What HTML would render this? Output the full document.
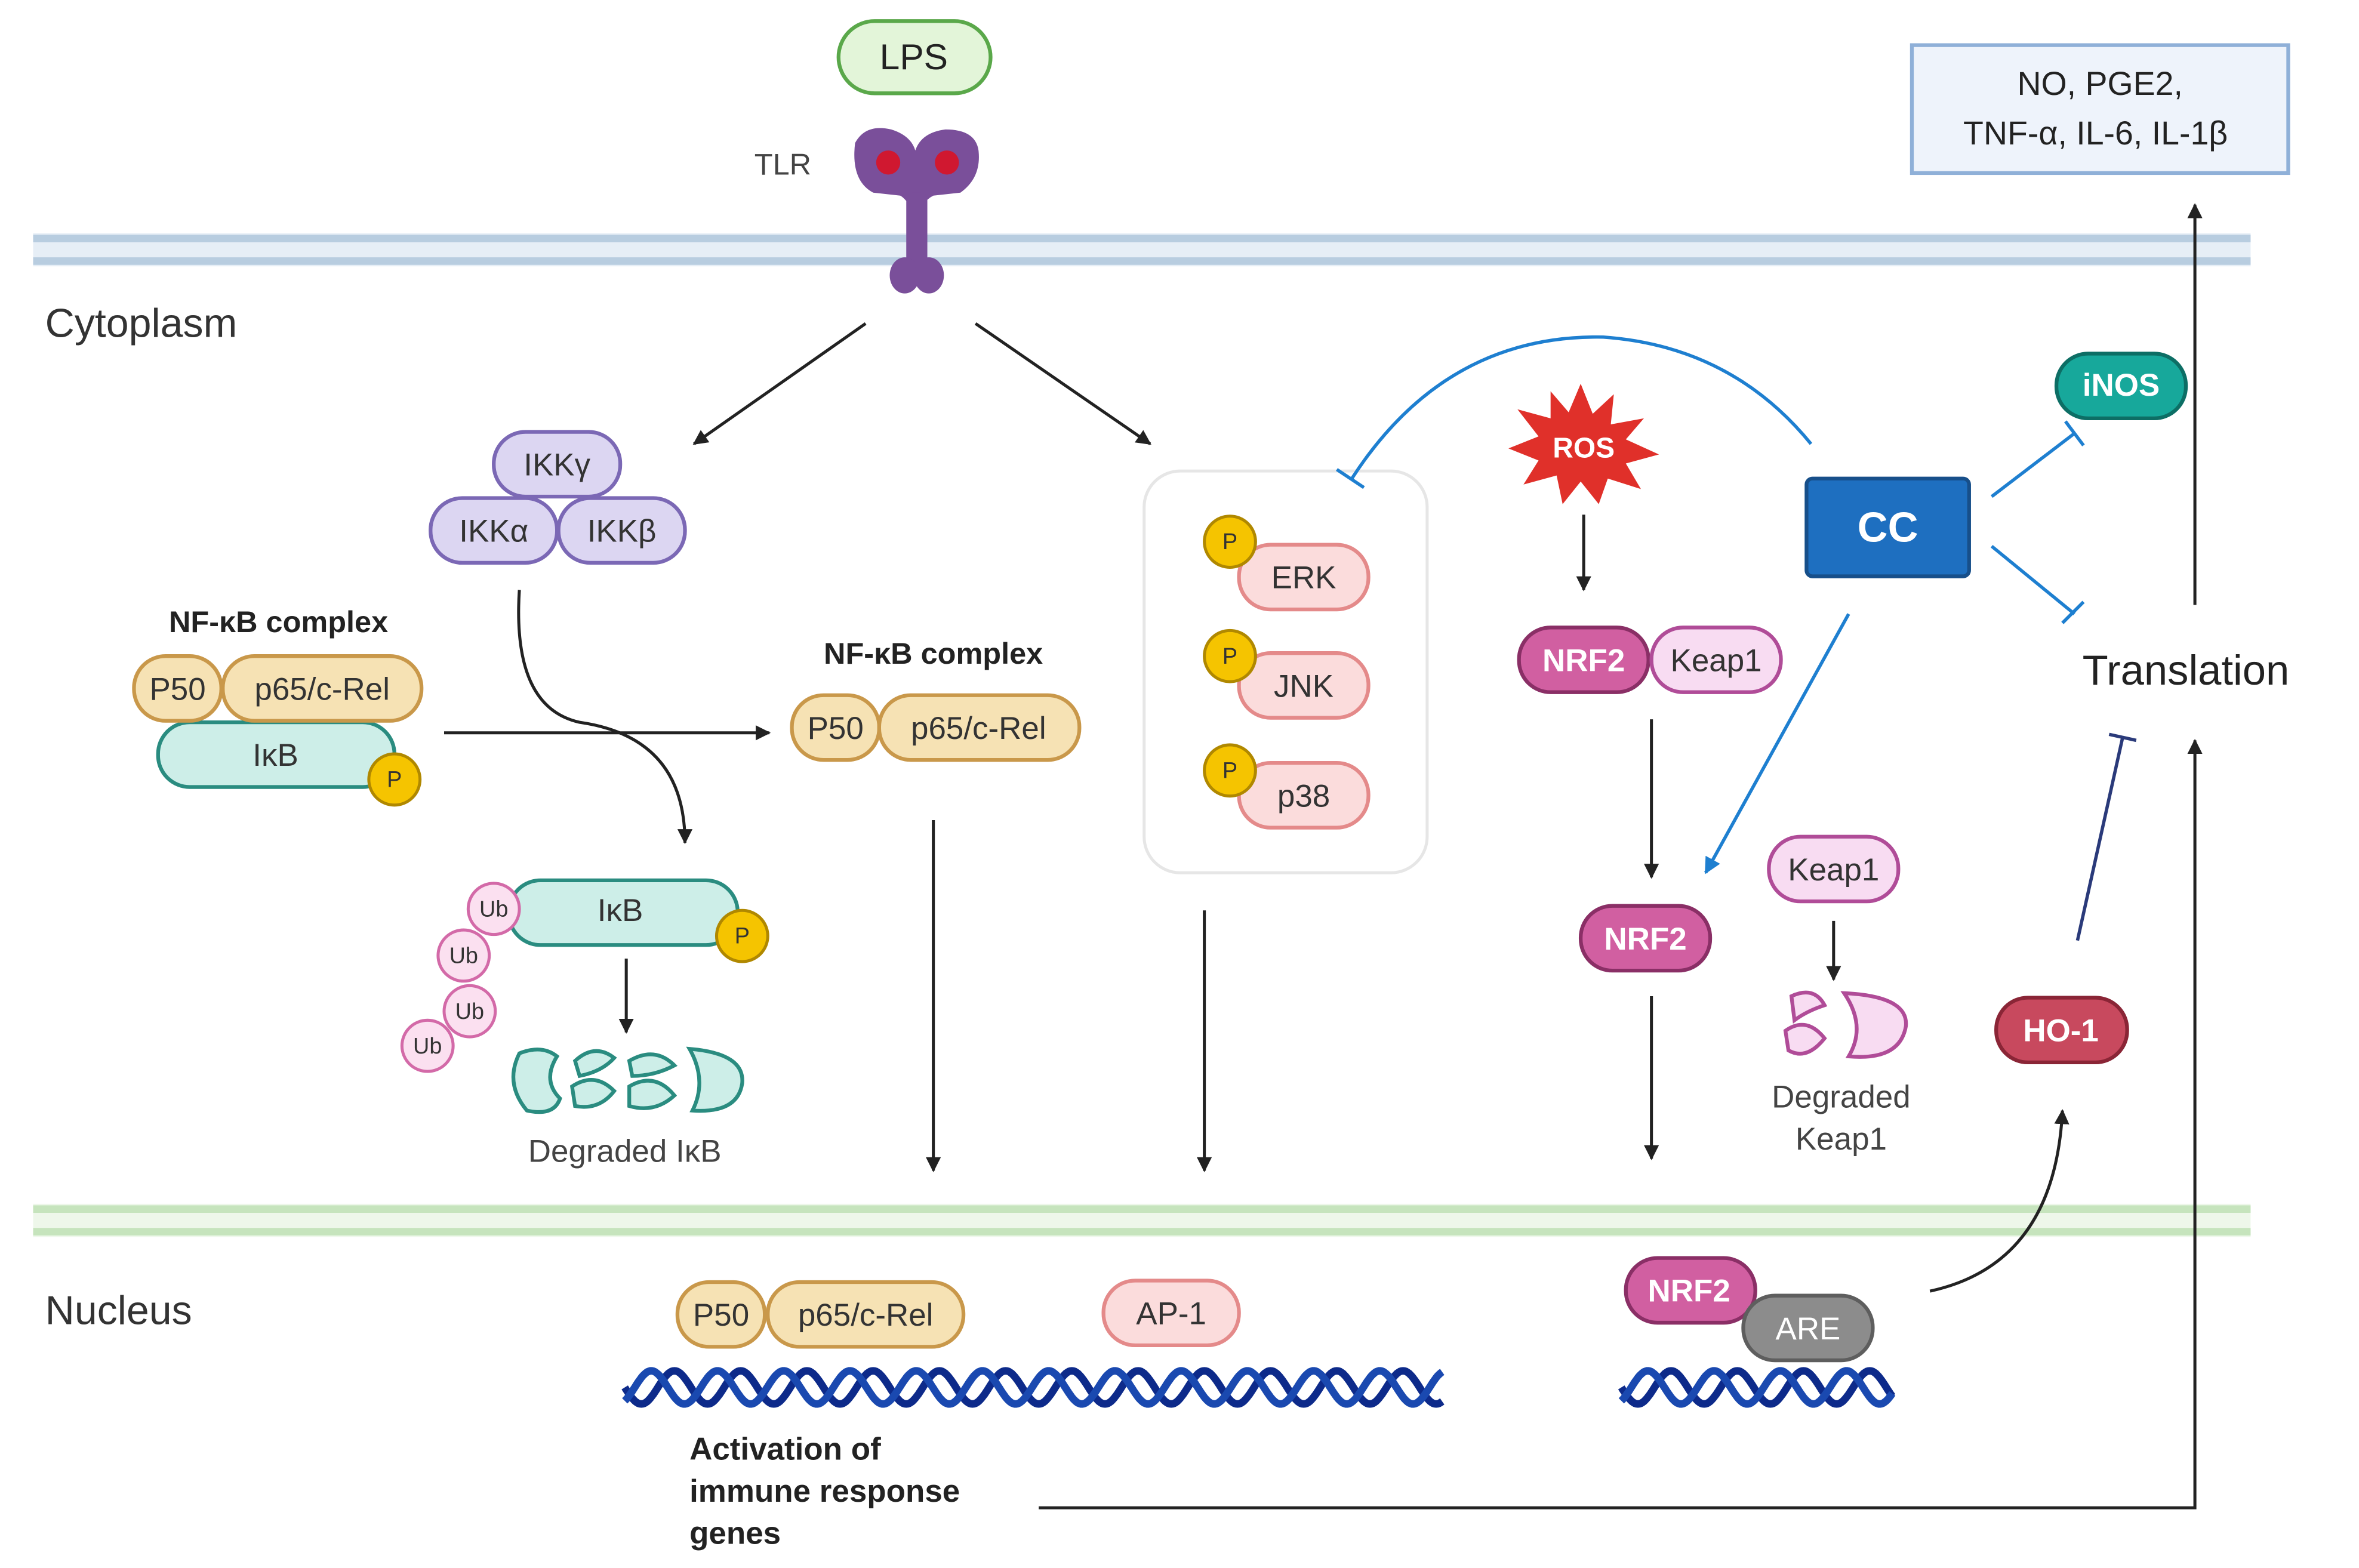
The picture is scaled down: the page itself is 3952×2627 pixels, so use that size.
<!DOCTYPE html>
<html><head><meta charset="utf-8"><style>
html,body{margin:0;padding:0;background:#fff;overflow:hidden}
svg{display:block}
text{font-family:"Liberation Sans",sans-serif}
</style></head><body>
<svg id="s" width="3952" height="2627" viewBox="0 0 1567 1042" preserveAspectRatio="none" xmlns="http://www.w3.org/2000/svg">
<defs>
<marker id="a" viewBox="0 0 10 10" refX="9" refY="5" markerWidth="5" markerHeight="5" orient="auto"><path d="M0,0L10,5L0,10z" fill="#222"/></marker>
<marker id="ab" viewBox="0 0 10 10" refX="9" refY="5" markerWidth="5" markerHeight="5" orient="auto"><path d="M0,0L10,5L0,10z" fill="#1e7fd0"/></marker>
</defs>
<rect width="1567" height="1042" fill="#fff"/>
<rect x="22" y="155" width="1473" height="22" fill="#e6eef6"/>
<rect x="22" y="156" width="1473" height="5" fill="#b8cde0"/>
<rect x="22" y="171" width="1473" height="5" fill="#b8cde0"/>
<rect x="22" y="800" width="1473" height="22" fill="#eef7ea"/>
<rect x="22" y="801" width="1473" height="5" fill="#c6e4bd"/>
<rect x="22" y="816" width="1473" height="5" fill="#c6e4bd"/>
<text x="30" y="224" font-size="27" fill="#333">Cytoplasm</text>
<text x="30" y="880" font-size="27" fill="#333">Nucleus</text>
<rect x="557" y="14" width="101" height="48" rx="24" fill="#e3f5d9" stroke="#5aa84a" stroke-width="2.5"/>
<text x="607" y="46" font-size="24" text-anchor="middle" fill="#222">LPS</text>
<text x="520" y="116" font-size="20" text-anchor="middle" fill="#444">TLR</text>
<g fill="#7a4f9a">
<path d="M568,95 Q575,82 592,86 Q605,90 608,100 Q612,88 628,86 Q648,86 650,100 Q652,118 638,128 L620,130 Q612,134 610,145 Q602,132 598,130 L580,128 Q565,120 568,95z"/>
<rect x="602" y="128" width="14" height="48" rx="4"/>
<ellipse cx="601" cy="183" rx="10" ry="12"/><ellipse cx="617" cy="183" rx="10" ry="12"/>
</g>
<circle cx="590" cy="108" r="8" fill="#d01830"/><circle cx="629" cy="108" r="8" fill="#d01830"/>
<g stroke="#222" stroke-width="2" fill="none" marker-end="url(#a)">
<line x1="575" y1="215" x2="461" y2="295"/>
<line x1="648" y1="215" x2="764" y2="295"/>
<line x1="295" y1="487" x2="511" y2="487"/>
<path d="M345,392 Q340,470 385,480 Q455,490 455,560"/>
<line x1="416" y1="637" x2="416" y2="686"/>
<line x1="620" y1="545" x2="620" y2="778"/>
<line x1="800" y1="605" x2="800" y2="778"/>
<line x1="1052" y1="342" x2="1052" y2="392"/>
<line x1="1097" y1="478" x2="1097" y2="583"/>
<line x1="1218" y1="612" x2="1218" y2="651"/>
<line x1="1097" y1="662" x2="1097" y2="770"/>
<line x1="1458" y1="402" x2="1458" y2="136"/>
<path d="M690,1002 L1458,1002 L1458,492"/>
<path d="M1282,858 Q1365,840 1370,738"/>
</g>
<g stroke="#7b68b5" stroke-width="2.5" fill="#dcd6f2">
<rect x="328" y="287" width="84" height="43" rx="21"/>
<rect x="286" y="331" width="84" height="43" rx="21"/>
<rect x="371" y="331" width="84" height="43" rx="21"/>
</g>
<g font-size="21" text-anchor="middle" fill="#333">
<text x="370" y="316">IKKγ</text><text x="328" y="360">IKKα</text><text x="413" y="360">IKKβ</text>
</g>
<text x="185" y="420" font-size="20" font-weight="bold" text-anchor="middle" fill="#222">NF-κB complex</text>
<rect x="105" y="480" width="157" height="43" rx="21" fill="#cdeee8" stroke="#2a8c80" stroke-width="2.5"/>
<text x="183" y="509" font-size="21" text-anchor="middle" fill="#333">IκB</text>
<g stroke="#c9984a" stroke-width="2.5" fill="#f6e2b4">
<rect x="89" y="436" width="58" height="43" rx="21"/><rect x="148" y="436" width="132" height="43" rx="21"/>
<rect x="526" y="462" width="58" height="43" rx="21"/><rect x="584" y="462" width="133" height="43" rx="21"/>
<rect x="450" y="852" width="58" height="43" rx="21"/><rect x="510" y="852" width="130" height="43" rx="21"/>
</g>
<g font-size="21" text-anchor="middle" fill="#333">
<text x="118" y="465">P50</text><text x="214" y="465">p65/c-Rel</text>
<text x="555" y="491">P50</text><text x="650" y="491">p65/c-Rel</text>
<text x="479" y="881">P50</text><text x="575" y="881">p65/c-Rel</text>
</g>
<text x="620" y="441" font-size="20" font-weight="bold" text-anchor="middle" fill="#222">NF-κB complex</text>
<rect x="338" y="585" width="152" height="43" rx="21" fill="#cdeee8" stroke="#2a8c80" stroke-width="2.5"/>
<text x="412" y="612" font-size="21" text-anchor="middle" fill="#333">IκB</text>
<g fill="#fbe0f0" stroke="#d36aa8" stroke-width="2">
<circle cx="328" cy="604" r="17"/><circle cx="308" cy="635" r="17"/><circle cx="312" cy="672" r="17"/><circle cx="284" cy="695" r="17"/>
</g>
<g font-size="15" text-anchor="middle" fill="#333">
<text x="328" y="609">Ub</text><text x="308" y="640">Ub</text><text x="312" y="677">Ub</text><text x="284" y="700">Ub</text>
</g>
<g fill="#cdeee8" stroke="#2a8c80" stroke-width="2.5">
<path d="M345,700 Q335,720 350,738 Q368,742 372,730 Q360,718 370,702 Q360,694 345,700z"/>
<path d="M382,705 Q395,693 408,703 Q400,712 385,715z M380,722 Q395,712 408,725 Q398,738 382,735z"/>
<path d="M418,705 Q435,695 448,708 Q435,715 420,715z M418,722 Q435,712 448,728 Q435,740 418,735z"/>
<path d="M458,697 Q495,700 493,720 Q490,740 460,738 Q470,718 458,697z"/>
</g>
<text x="415" y="772" font-size="21" text-anchor="middle" fill="#444">Degraded IκB</text>
<g fill="#f5c400" stroke="#b08800" stroke-width="2">
<circle cx="262" cy="518" r="17"/><circle cx="493" cy="622" r="17"/>
</g>
<g font-size="15" text-anchor="middle" fill="#333">
<text x="262" y="523">P</text><text x="493" y="627">P</text>
</g>
<rect x="760" y="313" width="188" height="267" rx="24" fill="#fff" stroke="#e6e6e6" stroke-width="2"/>
<g fill="#fbdcdc" stroke="#e48a8a" stroke-width="2.5">
<rect x="823" y="362" width="86" height="43" rx="21"/><rect x="823" y="434" width="86" height="43" rx="21"/><rect x="823" y="507" width="86" height="43" rx="21"/>
</g>
<g fill="#f5c400" stroke="#b08800" stroke-width="2">
<circle cx="817" cy="360" r="17"/><circle cx="817" cy="436" r="17"/><circle cx="817" cy="512" r="17"/>
</g>
<g font-size="15" text-anchor="middle" fill="#333">
<text x="817" y="365">P</text><text x="817" y="441">P</text><text x="817" y="517">P</text>
</g>
<g font-size="21" text-anchor="middle" fill="#333">
<text x="866" y="391">ERK</text><text x="866" y="463">JNK</text><text x="866" y="536">p38</text>
</g>
<g stroke="#1e7fd0" stroke-width="2.2" fill="none">
<path d="M1203,295 Q1150,230 1065,224 Q960,222 898,318"/>
<line x1="888" y1="312" x2="906" y2="324"/>
<line x1="1323" y1="330" x2="1378" y2="288"/><line x1="1372" y1="280" x2="1384" y2="296"/>
<line x1="1323" y1="363" x2="1378" y2="408"/><line x1="1370" y1="414" x2="1384" y2="400"/>
<line x1="1228" y1="408" x2="1133" y2="580" marker-end="url(#ab)"/>
</g>
<path d="M1050,255 L1058,275 L1072,262 L1070,282 L1092,278 L1080,292 L1102,302 L1080,308 L1090,325 L1068,318 L1062,335 L1050,320 L1038,335 L1034,316 L1012,322 L1022,306 L1002,298 L1022,290 L1008,272 L1030,278 L1030,260 L1042,274z" fill="#e0302a"/>
<text x="1052" y="304" font-size="19" font-weight="bold" text-anchor="middle" fill="#fff">ROS</text>
<g fill="#d15fa1" stroke="#8a2f66" stroke-width="2.5">
<rect x="1009" y="417" width="86" height="43" rx="21"/>
<rect x="1050" y="602" width="86" height="43" rx="21"/>
<rect x="1080" y="836" width="86" height="43" rx="21"/>
</g>
<g fill="#f8dcf2" stroke="#b04c98" stroke-width="2.5">
<rect x="1097" y="417" width="86" height="43" rx="21"/>
<rect x="1175" y="556" width="86" height="43" rx="21"/>
<path d="M1190,662 Q1205,655 1212,668 Q1200,672 1192,678z M1186,685 Q1200,675 1212,690 Q1200,705 1188,698z"/>
<path d="M1225,660 Q1268,662 1266,682 Q1262,705 1228,702 Q1240,682 1225,660z"/>
</g>
<rect x="1158" y="861" width="86" height="43" rx="21" fill="#8c8c8c" stroke="#5e5e5e" stroke-width="2.5"/>
<g font-size="21" text-anchor="middle">
<text x="1052" y="446" fill="#fff" font-weight="bold">NRF2</text><text x="1140" y="446" fill="#333">Keap1</text>
<text x="1093" y="631" fill="#fff" font-weight="bold">NRF2</text><text x="1218" y="585" fill="#333">Keap1</text>
<text x="1122" y="865" fill="#fff" font-weight="bold">NRF2</text><text x="1201" y="890" fill="#fff">ARE</text>
</g>
<text x="1223" y="736" font-size="21" text-anchor="middle" fill="#444">Degraded</text>
<text x="1223" y="764" font-size="21" text-anchor="middle" fill="#444">Keap1</text>
<rect x="1200" y="318" width="108" height="65" rx="4" fill="#1e6fc0" stroke="#174f8a" stroke-width="2.5"/>
<text x="1254" y="360" font-size="28" font-weight="bold" text-anchor="middle" fill="#fff">CC</text>
<rect x="1366" y="235" width="86" height="43" rx="21" fill="#17a89b" stroke="#0d6e65" stroke-width="2.5"/>
<text x="1409" y="263" font-size="21" font-weight="bold" text-anchor="middle" fill="#fff">iNOS</text>
<text x="1452" y="455" font-size="28" text-anchor="middle" fill="#222">Translation</text>
<rect x="1270" y="30" width="250" height="85" fill="#eef3fb" stroke="#8fb0d8" stroke-width="2.5"/>
<text x="1395" y="63" font-size="22" text-anchor="middle" fill="#222">NO, PGE2,</text>
<text x="1392" y="96" font-size="22" text-anchor="middle" fill="#222">TNF-α, IL-6, IL-1β</text>
<rect x="1326" y="663" width="87" height="43" rx="21" fill="#c8495e" stroke="#8a2536" stroke-width="2.5"/>
<text x="1369" y="692" font-size="21" font-weight="bold" text-anchor="middle" fill="#fff">HO-1</text>
<g stroke="#2a3a7a" stroke-width="2.2"><line x1="1380" y1="625" x2="1410" y2="490"/><line x1="1401" y1="488" x2="1419" y2="492"/></g>
<rect x="733" y="851" width="90" height="43" rx="21" fill="#fbdcdc" stroke="#e48a8a" stroke-width="2.5"/>
<text x="778" y="880" font-size="21" text-anchor="middle" fill="#333">AP-1</text>
<g id="dna" fill="none" stroke-width="5"></g>
<g font-size="21" font-weight="bold" fill="#222">
<text x="458" y="970">Activation of</text><text x="458" y="998">immune response</text><text x="458" y="1026">genes</text>
</g>
</svg>
<script>
function helix(x0,x1,yc,amp,per){var g=document.getElementById('dna');var cols=['#0d2a8a','#1a49b0'];for(var ph=0;ph<2;ph++){var d='';for(var x=x0;x<=x1;x+=1){var y=yc+amp*Math.sin((x-x0)/per*2*Math.PI+ph*0.7*Math.PI);d+=(x==x0?'M':'L')+x+','+y.toFixed(1);}var p=document.createElementNS('http://www.w3.org/2000/svg','path');p.setAttribute('d',d);p.setAttribute('stroke',cols[ph]);g.appendChild(p);}}
helix(415,958,922,11,44);helix(1077,1257,922,11,44);
</script>
</body></html>
